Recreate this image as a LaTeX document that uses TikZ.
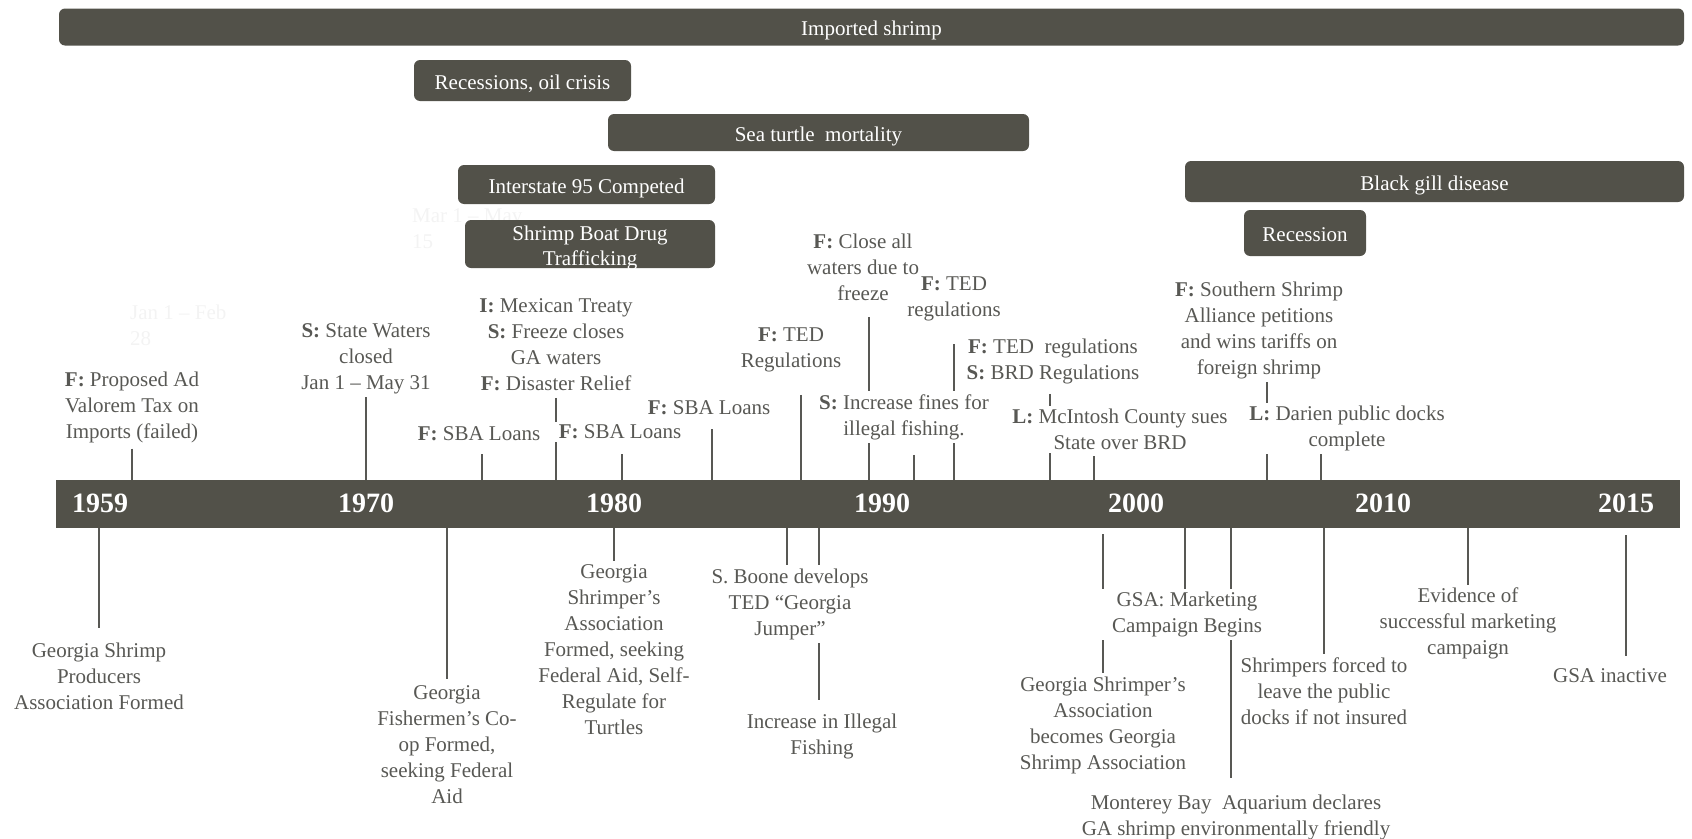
\documentclass[tikz,border=0pt]{standalone}
\usepackage{fontspec}
\setmainfont{Liberation Serif}
\usetikzlibrary{backgrounds}
\definecolor{barcol}{RGB}{82,81,73}
\definecolor{txtcol}{RGB}{88,88,84}
\definecolor{faintcol}{RGB}{243,243,243}
\newcommand{\evfont}{\fontsize{21}{26}\selectfont}
\newcommand{\bandfont}{\fontsize{21}{25}\selectfont}
\newcommand{\yrfont}{\fontsize{28}{30}\selectfont\bfseries}

\begin{document}
\begin{tikzpicture}[x=1pt,y=-1pt,
  band/.style={fill=barcol,rounded corners=6pt,text=white,font=\bandfont,align=center,inner sep=0pt,text height=20pt,text depth=3pt},
  yr/.style={text=white,font=\yrfont,inner sep=0pt},
  ev/.style={align=center,text=txtcol,font=\evfont,inner sep=3pt,yshift=-2pt},
  evw/.style={ev,fill=white},
  tick/.style={draw=txtcol,line width=1.6pt},
  faint/.style={align=left,text=faintcol,font=\evfont,inner sep=0pt,anchor=west}]
\useasboundingbox (0,0) rectangle (1692,838);

% faint leftovers
\node[faint] (jan) at (130,325) {Jan 1 -- Feb\\28};
\node[faint] (mar) at (412,229) {Mar 1 -- May\\15};

% context bands
\node[band,minimum width=1625pt,minimum height=37pt] (imp) at (871.5,27) {Imported shrimp};
\node[band,minimum width=217pt,minimum height=41pt] (oil) at (522.5,80.5) {Recessions, oil crisis};
\node[band,minimum width=421pt,minimum height=37pt] (turt) at (818.5,132.5) {Sea turtle\ \ mortality};
\node[band,minimum width=257pt,minimum height=39pt] (hwy) at (586.5,184.5) {Interstate 95 Competed};
\node[band,minimum width=250pt,minimum height=48pt,text height=45pt] (drug) at (590,244) {Shrimp Boat Drug\\Trafficking};
\node[band,minimum width=499pt,minimum height=41pt] (gill) at (1434.5,181.5) {Black gill disease};
\node[band,minimum width=122pt,minimum height=46pt] (rcs) at (1305,233) {Recession};

% timeline
\node[fill=barcol,minimum width=1624pt,minimum height=48pt,inner sep=0pt] (tl) at (868,504) {};
\node[yr] (y59) at (100,503) {1959};
\node[yr] (y70) at (366,503) {1970};
\node[yr] (y80) at (614,503) {1980};
\node[yr] (y90) at (882,503) {1990};
\node[yr] (y00) at (1136,503) {2000};
\node[yr] (y10) at (1383,503) {2010};
\node[yr] (y15) at (1626,503) {2015};

% events above the line
\node[ev] (adv) at (132,405) {\textbf{F:} Proposed Ad\\Valorem Tax on\\Imports (failed)};
\node[ev] (swc) at (366,357) {\textbf{S:} State Waters\\closed\\Jan 1 -- May 31};
\node[ev] (sba1) at (479,432) {\textbf{F:} SBA Loans};
\node[ev] (mex) at (556,342.5) {\textbf{I:} Mexican Treaty\\\textbf{S:} Freeze closes\\GA waters\\\textbf{F:} Disaster Relief};
\node[evw,inner xsep=9pt] (sba2) at (620,430) {\textbf{F:} SBA Loans};
\node[ev] (sba3) at (709,406) {\textbf{F:} SBA Loans};
\node[ev] (ted1) at (791,347.5) {\textbf{F:} TED\\Regulations};
\node[ev] (frz) at (863,265.5) {\textbf{F:} Close all\\waters due to\\freeze};
\node[evw] (fine) at (904,415) {\textbf{S:} Increase fines for\\illegal fishing.};
\node[ev] (ted2) at (954,297) {\textbf{F:} TED\\regulations};
\node[ev] (brd) at (1053,359) {\textbf{F:} TED\ \ regulations\\\textbf{S:} BRD Regulations};
\node[evw] (mci) at (1120,427.5) {\textbf{L:} McIntosh County sues\\State over BRD};
\node[ev] (ssa) at (1259,328.5) {\textbf{F:} Southern Shrimp\\Alliance petitions\\and wins tariffs on\\foreign shrimp};
\node[evw] (dar) at (1347,426.5) {\textbf{L:} Darien public docks\\complete};

% events below the line
\node[ev] (gsp) at (99,674.5) {Georgia Shrimp\\Producers\\Association Formed};
\node[ev] (coop) at (447,742.5) {Georgia\\Fishermen’s Co-\\op Formed,\\seeking Federal\\Aid};
\node[ev] (gsaf) at (614,647.5) {Georgia\\Shrimper’s\\Association\\Formed, seeking\\Federal Aid, Self-\\Regulate for\\Turtles};
\node[evw] (boone) at (790,602) {S. Boone develops\\TED “Georgia\\Jumper”};
\node[ev] (ill) at (822,734) {Increase in Illegal\\Fishing};
\node[evw,inner xsep=14pt] (mkt) at (1187,612.5) {GSA: Marketing\\Campaign Begins};
\node[ev] (beco) at (1103,723) {Georgia Shrimper’s\\Association\\becomes Georgia\\Shrimp Association};
\node[ev] (mont) at (1236,815) {Monterey Bay\ \ Aquarium declares\\GA shrimp environmentally friendly};
\node[ev] (frc) at (1324,689) {Shrimpers forced to\\leave the public\\docks if not insured};
\node[ev] (evd) at (1468,621.5) {Evidence of\\successful marketing\\campaign};
\node[ev] (ina) at (1610,674) {GSA inactive};

\begin{pgfonlayer}{background}
\draw[tick,shorten <=3pt] (adv.south) -- (adv.south |- tl.north);
\draw[tick] (swc.south) -- (swc.south |- tl.north);
\draw[tick,shorten <=10pt] ([xshift=3pt]sba1.south) -- ([xshift=3pt]sba1.south |- tl.north);
\draw[tick,shorten <=4pt] (mex.south) -- (mex.south |- tl.north);
\draw[tick,shorten <=12pt] ([xshift=2pt]sba2.south) -- ([xshift=2pt]sba2.south |- tl.north);
\draw[tick,shorten <=11pt] ([xshift=3pt]sba3.south) -- ([xshift=3pt]sba3.south |- tl.north);
\draw[tick,shorten <=20pt] ([xshift=10pt]ted1.south) -- ([xshift=10pt]ted1.south |- tl.north);
\draw[tick,shorten <=13pt] ([xshift=6pt]frz.south) -- ([xshift=6pt]frz.south |- tl.north);
\draw[tick,shorten <=12pt] ([xshift=10pt]fine.south) -- ([xshift=10pt]fine.south |- tl.north);
\draw[tick,shorten <=20pt] (ted2.south) -- (ted2.south |- tl.north);
\draw[tick,shorten <=7pt] ([xshift=-3pt]brd.south) -- ([xshift=-3pt]brd.south |- tl.north);
\draw[tick,shorten <=3pt] ([xshift=-26pt]mci.south) -- ([xshift=-26pt]mci.south |- tl.north);
\draw[tick] ([xshift=8pt]ssa.south) -- ([xshift=8pt]ssa.south |- tl.north);
\draw[tick] ([xshift=-26pt]dar.south) -- ([xshift=-26pt]dar.south |- tl.north);
\draw[tick,shorten >=12pt] (gsp.north |- tl.south) -- (gsp.north);
\draw[tick,shorten >=3pt] (coop.north |- tl.south) -- (coop.north);
\draw[tick] (gsaf.north |- tl.south) -- (gsaf.north);
\draw[tick] ([xshift=-3pt]boone.north |- tl.south) -- ([xshift=-3pt]boone.north);
\draw[tick,shorten >=10pt] ([xshift=-3pt]ill.north |- tl.south) -- ([xshift=-3pt]ill.north);
\draw[tick] ([xshift=-2pt]mkt.north |- tl.south) -- ([xshift=-2pt]mkt.north);
\draw[tick,shorten <=6pt] (beco.north |- tl.south) -- (beco.north);
\draw[tick,shorten >=13pt] ([xshift=-5pt]mont.north |- tl.south) -- ([xshift=-5pt]mont.north);
\draw[tick] (frc.north |- tl.south) -- (frc.north);
\draw[tick] (evd.north |- tl.south) -- (evd.north);
\draw[tick,shorten <=7pt,shorten >=10pt] ([xshift=16pt]ina.north |- tl.south) -- ([xshift=16pt]ina.north);
\end{pgfonlayer}
\end{tikzpicture}
\end{document}
